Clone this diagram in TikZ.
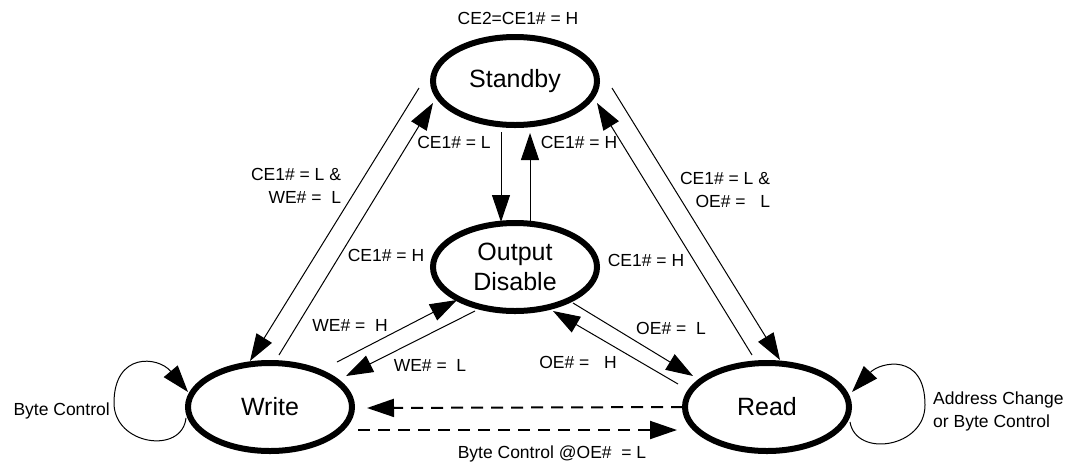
\documentclass[tikz,border=0pt]{standalone}
\usepackage{fontspec}
\setmainfont{Liberation Sans}
\usetikzlibrary{arrows.meta,calc,shapes.geometric}
\begin{document}
\begin{tikzpicture}[x=1pt,y=-1pt,
  state/.style={ellipse,draw,line width=6pt,minimum width=164pt,minimum height=88pt,
    inner sep=0pt,align=center,font=\fontsize{25}{30}\selectfont},
  lbl/.style={inner sep=0pt,font=\fontsize{17.5}{23}\selectfont},
  tip/.style={-{Triangle[length=27pt,width=18pt]}},
  tr/.style={line width=1pt,tip},
  dtr/.style={line width=2pt,dash pattern=on 12pt off 8pt,tip}]
\useasboundingbox (0,0) rectangle (1075,467);

\node[state] (S) at (515,81) {Standby};
\node[state] (O) at (515,267) {Output\\Disable};
\node[state] (W) at (270,407) {Write};
\node[state] (R) at (767,407) {Read};

% Standby <-> Write
\draw[tr] ($(S)+(-96,7)$) -- ($(W)+(-20,-46)$);
\draw[tr] ($(W)+(9,-52)$) -- ($(S)+(-82,22)$);
% Standby <-> Output Disable
\draw[tr] ($(S)+(-14,51)$) -- ($(O)+(-14,-45)$);
\draw[tr] ($(O)+(15,-45)$) -- ($(S)+(15,52)$);
% Standby <-> Read
\draw[tr] ($(S)+(97,7)$) -- ($(R)+(13,-47)$);
\draw[tr] ($(R)+(-15,-52)$) -- ($(S)+(82,22)$);
% Output Disable <-> Write
\draw[tr] ($(O)+(-40,44)$) -- ($(W)+(76,-31)$);
\draw[tr] ($(W)+(67,-45)$) -- ($(O)+(-58,33)$);
% Output Disable <-> Read
\draw[tr] ($(O)+(58,36)$) -- ($(R)+(-74,-31)$);
\draw[tr] ($(R)+(-89,-23)$) -- ($(O)+(38,44)$);
% Read <-> Write (dashed)
\draw[dtr] ($(R)+(-84,0)$) -- ($(W)+(97,1)$);
\draw[dtr] ($(W)+(88,23)$) -- ($(R)+(-90,23)$);
% self loops
\draw[tr] ($(W)+(-84,11)$) .. controls ($(W)+(-88,48)$) and ($(W)+(-156,38)$) .. ($(W)+(-156,-4)$)
  .. controls ($(W)+(-156,-55)$) and ($(W)+(-112,-51)$) .. ($(W)+(-82,-15)$);
\draw[tr] ($(R)+(83,15)$) .. controls ($(R)+(89,51)$) and ($(R)+(158,41)$) .. ($(R)+(158,-2)$)
  .. controls ($(R)+(158,-55)$) and ($(R)+(113,-45)$) .. ($(R)+(85,-15)$);

% labels
\node[lbl] (l0) at (518,18) {CE2=CE1\# = H};
\node[lbl,align=right] (l1) at (296,186) {CE1\# = L \&\\WE\# =\ \ L};
\node[lbl] (l2) at (386,255) {CE1\# = H};
\node[lbl] (l3) at (454,142) {CE1\# = L};
\node[lbl] (l4) at (579,142) {CE1\# = H};
\node[lbl,align=right] (l5) at (725,190) {CE1\# = L \&\\OE\# =\ \ \ L};
\node[lbl] (l6) at (646,260) {CE1\# = H};
\node[lbl] (l7) at (350,325) {WE\# =\ \ H};
\node[lbl] (l8) at (430,365) {WE\# =\ \ L};
\node[lbl] (l9) at (671,328) {OE\# =\ \ L};
\node[lbl] (l10) at (578,362) {OE\# =\ \ \ H};
\node[lbl] (l11) at (552,454) {Byte Control @OE\#\ \ = L};
\node[lbl,anchor=east] (l12) at (110,411) {Byte Control};
\node[lbl,align=left,anchor=west] (l13) at (933,411) {Address Change\\or Byte Control};
\end{tikzpicture}
\end{document}
